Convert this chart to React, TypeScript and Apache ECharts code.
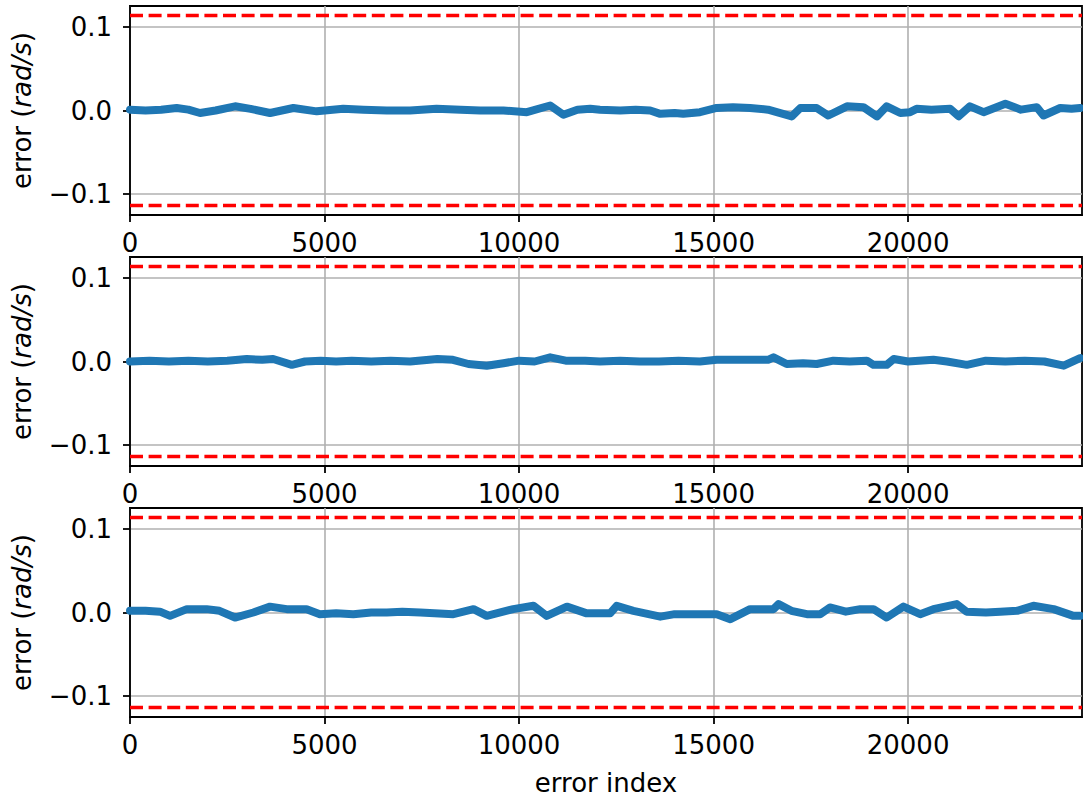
import React, { useEffect, useRef } from "react";
import * as echarts from "echarts";

// ---- data ----
const X_MAX = 24470;
const X_TICKS = [0, 5000, 10000, 15000, 20000];
const Y_TICKS = [-0.1, 0.0, 0.1];
const Y_MIN = -0.1249;
const Y_MAX = 0.1249;
const THRESHOLD = 0.1135;

const err1Idx = [0, 400, 800, 1200, 1500, 1800, 2200, 2700, 3100, 3600, 4200, 4800, 5480, 6000, 6600, 7200, 7880, 8500, 9000, 9600, 10200, 10800, 11140, 11500, 11830, 12080, 12600, 13000, 13370, 13630, 14000, 14220, 14650, 15080, 15500, 15940, 16400, 17010, 17230, 17650, 17950, 18430, 18850, 19200, 19450, 19800, 20050, 20220, 20600, 21080, 21300, 21590, 21940, 22500, 22900, 23310, 23480, 23910, 24200, 24420];
const err1Val = [0.001, 0.0, 0.001, 0.003, 0.001, -0.003, 0.0, 0.005, 0.002, -0.003, 0.003, -0.001, 0.002, 0.001, 0.0, 0.0, 0.002, 0.001, 0.0, 0.0, -0.002, 0.006, -0.005, 0.001, 0.002, 0.001, 0.0, 0.001, 0.0, -0.004, -0.003, -0.004, -0.002, 0.003, 0.004, 0.003, 0.001, -0.007, 0.003, 0.003, -0.006, 0.005, 0.004, -0.007, 0.005, -0.003, -0.002, 0.002, 0.001, 0.002, -0.007, 0.005, -0.002, 0.008, 0.001, 0.004, -0.006, 0.003, 0.002, 0.003];

const err2Idx = [0, 500, 1000, 1500, 2000, 2500, 3000, 3400, 3680, 4160, 4500, 4900, 5300, 5700, 6200, 6700, 7200, 7900, 8300, 8700, 9170, 9600, 10000, 10400, 10800, 11200, 11700, 12080, 12600, 13100, 13600, 14100, 14650, 15080, 15700, 16400, 16540, 16880, 17300, 17650, 18080, 18500, 18940, 19110, 19450, 19630, 20000, 20650, 21000, 21510, 22000, 22500, 23000, 23500, 24000, 24420];
const err2Val = [0.0, 0.001, 0.0, 0.001, 0.0, 0.001, 0.003, 0.002, 0.003, -0.004, 0.0, 0.001, 0.0, 0.001, 0.0, 0.001, 0.0, 0.003, 0.002, -0.003, -0.005, -0.002, 0.001, 0.0, 0.005, 0.001, 0.001, 0.0, 0.001, 0.0, 0.0, 0.001, 0.0, 0.002, 0.002, 0.002, 0.005, -0.003, -0.002, -0.003, 0.001, 0.0, 0.001, -0.004, -0.004, 0.003, 0.0, 0.002, 0.0, -0.004, 0.001, 0.0, 0.001, 0.0, -0.005, 0.004];

const err3Idx = [0, 400, 770, 1030, 1460, 1970, 2300, 2700, 3170, 3600, 4030, 4540, 4880, 5300, 5740, 6200, 6600, 7000, 7460, 8310, 8830, 9170, 9850, 10370, 10710, 11230, 11740, 12080, 12340, 12510, 12940, 13630, 14000, 14500, 15080, 15430, 15940, 16540, 16670, 17000, 17400, 17740, 17990, 18400, 18770, 19110, 19450, 19880, 20310, 20650, 21250, 21500, 22000, 22370, 22800, 23220, 23740, 24250, 24420];
const err3Val = [0.002, 0.002, 0.001, -0.004, 0.004, 0.004, 0.002, -0.006, 0.0, 0.007, 0.004, 0.004, -0.002, -0.001, -0.002, 0.0, 0.0, 0.001, 0.0, -0.002, 0.004, -0.004, 0.004, 0.008, -0.004, 0.007, -0.001, -0.001, -0.001, 0.008, 0.002, -0.005, -0.002, -0.002, -0.002, -0.008, 0.004, 0.004, 0.01, 0.002, -0.002, -0.002, 0.006, 0.001, 0.004, 0.004, -0.006, 0.007, -0.002, 0.004, 0.01, 0.001, 0.0, 0.001, 0.002, 0.008, 0.004, -0.004, -0.004];

const SERIES_IDX = [err1Idx, err2Idx, err3Idx];
const SERIES_VAL = [err1Val, err2Val, err3Val];

// ---- layout / style ----
const FONT = "DejaVu Sans";
const FS = 26;
const GRID_TOPS = [6, 257, 508];
const GRID_H = 209;
const GRID_LEFT = 130;
const GRID_W = 952;

export default function App() {
  const ref = useRef<HTMLDivElement>(null);

  useEffect(() => {
    document.body.style.margin = "0";
    if (!ref.current) return;
    const chart = echarts.init(ref.current, undefined, { renderer: "svg" });

    const grids = GRID_TOPS.map((t) => ({
      left: GRID_LEFT,
      top: t,
      width: GRID_W,
      height: GRID_H,
      show: true,
      borderColor: "#000",
      borderWidth: 1.8,
      backgroundColor: "transparent",
    }));

    const xAxes = GRID_TOPS.map((_, i) => ({
      gridIndex: i,
      type: "value",
      min: 0,
      max: X_MAX,
      name: i === 2 ? "error index" : "",
      nameLocation: "middle",
      nameGap: 53,
      nameTextStyle: { fontSize: FS, color: "#000", fontFamily: FONT },
      axisLine: { show: true, onZero: false, lineStyle: { color: "#000", width: 1.8 } },
      axisTick: { show: true, length: 7, lineStyle: { color: "#000", width: 1.8 }, customValues: X_TICKS },
      axisLabel: {
        customValues: X_TICKS,
        fontSize: FS,
        color: "#000",
        fontFamily: FONT,
        margin: 15,
        formatter: (v: number) => String(Math.round(v)),
      },
      splitLine: { show: true, lineStyle: { color: "#b0b0b0", width: 1.6 } },
    }));

    const yAxes = GRID_TOPS.map((_, i) => ({
      gridIndex: i,
      type: "value",
      min: Y_MIN,
      max: Y_MAX,
      name: "{n|error (}{i|rad/s}{n|)}",
      nameLocation: "middle",
      nameGap: 95,
      nameTextStyle: {
        fontSize: FS,
        color: "#000",
        fontFamily: FONT,
        rich: {
          n: { fontSize: FS, color: "#000", fontFamily: FONT },
          i: { fontSize: FS, color: "#000", fontFamily: FONT, fontStyle: "italic" },
        },
      },
      axisLine: { show: true, onZero: false, lineStyle: { color: "#000", width: 1.8 } },
      axisTick: { show: true, length: 7, lineStyle: { color: "#000", width: 1.8 }, customValues: Y_TICKS },
      axisLabel: {
        customValues: Y_TICKS,
        fontSize: FS,
        color: "#000",
        fontFamily: FONT,
        margin: 18,
        formatter: (v: number) => (v < -1e-9 ? "\u2212" : "") + Math.abs(v).toFixed(1),
      },
      splitLine: { show: true, lineStyle: { color: "#b0b0b0", width: 1.6 } },
    }));

    const series: any[] = [];
    GRID_TOPS.forEach((_, i) => {
      const idx = SERIES_IDX[i];
      const val = SERIES_VAL[i];
      series.push({
        type: "line",
        xAxisIndex: i,
        yAxisIndex: i,
        data: idx.map((x, k) => [x, val[k]]),
        showSymbol: false,
        symbol: "none",
        lineStyle: { color: "#1f77b4", width: 8, join: "round", cap: "round" },
        z: 3,
      });
      [THRESHOLD, -THRESHOLD].forEach((t) => {
        series.push({
          type: "line",
          xAxisIndex: i,
          yAxisIndex: i,
          data: [
            [0, t],
            [X_MAX, t],
          ],
          showSymbol: false,
          symbol: "none",
          lineStyle: { color: "#ff0000", width: 3.5, type: [13, 5.6] },
          z: 4,
        });
      });
    });

    chart.setOption({
      animation: false,
      grid: grids,
      xAxis: xAxes,
      yAxis: yAxes,
      series,
    });

    return () => chart.dispose();
  }, []);

  return <div ref={ref} style={{ width: 1083, height: 798 }} />;
}
